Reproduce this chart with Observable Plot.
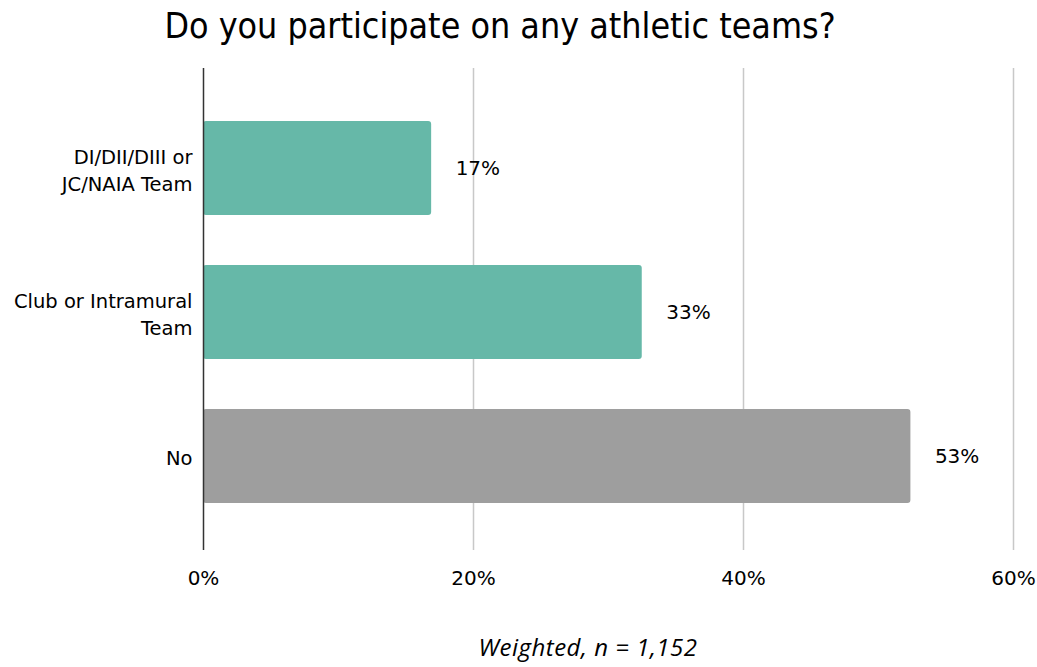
<!DOCTYPE html>
<html>
<head>
<meta charset="utf-8">
<script src="https://cdn.jsdelivr.net/npm/d3@7"></script>
<script src="https://cdn.jsdelivr.net/npm/@observablehq/plot@0.6"></script>
<style>
  body { margin: 0; background: #fff; width: 1037px; height: 667px; position: relative; overflow: hidden; }
  #title { position: absolute; left: 0; top: 0; width: 1000px; text-align: center; font-family: "DejaVu Sans Condensed", "DejaVu Sans", sans-serif; font-size: 35.5px; line-height: 52px; color: #000; }
  #chart { position: absolute; left: 0; top: 60px; }
  #caption { position: absolute; left: 388px; width: 400px; top: 632px; text-align: center; font-family: "Open Sans", sans-serif; font-style: italic; font-size: 24px; letter-spacing: 0.5px; line-height: 30px; color: #000; }
</style>
</head>
<body>
<div id="title">Do you participate on any athletic teams?</div>
<div id="chart"></div>
<div id="caption">Weighted, n = 1,152</div>
<script>
const categories = ["DI/DII/DIII or\nJC/NAIA Team", "Club or Intramural\nTeam", "No"];
const values = [16.9, 32.5, 52.4];
const labels = ["17%", "33%", "53%"];
const colors = ["#66B8A8", "#66B8A8", "#9E9E9E"];
const xTicks = [0, 20, 40, 60];

const data = categories.map((c, i) => ({cat: c, value: values[i], label: labels[i], color: colors[i]}));

const font = "'DejaVu Sans', sans-serif";

const chart = Plot.plot({
  width: 1037,
  height: 540,
  marginTop: 8,
  marginBottom: 50,
  marginLeft: 203,
  marginRight: 24,
  style: {fontFamily: font, fontSize: "19px", color: "#000", background: "transparent"},
  x: {domain: [0, 60]},
  y: {domain: categories, range: [61, 443], paddingInner: 0.35, paddingOuter: 0},
  marks: [
    Plot.ruleX(xTicks.filter(d => d > 0), {stroke: "#c8c8c8", strokeWidth: 1.5}),
    Plot.barX(data, {y: "cat", x: "value", fill: "color", rx: 3}),
    Plot.ruleX([0], {stroke: "#333", strokeWidth: 1.5}),
    Plot.text(data, {y: "cat", x: "value", text: "label", dx: 24, textAnchor: "start", fontSize: 20, fill: "#000"}),
    Plot.axisX({ticks: xTicks, tickFormat: d => d + "%", tickSize: 0, tickPadding: 20, fontSize: 20, label: null, fill: "#000"}),
    Plot.axisY({tickSize: 0, tickPadding: 11, fontSize: 19.5, label: null, lineHeight: 1.4, fill: "#000"})
  ]
});
document.getElementById("chart").appendChild(chart);
</script>
</body>
</html>
